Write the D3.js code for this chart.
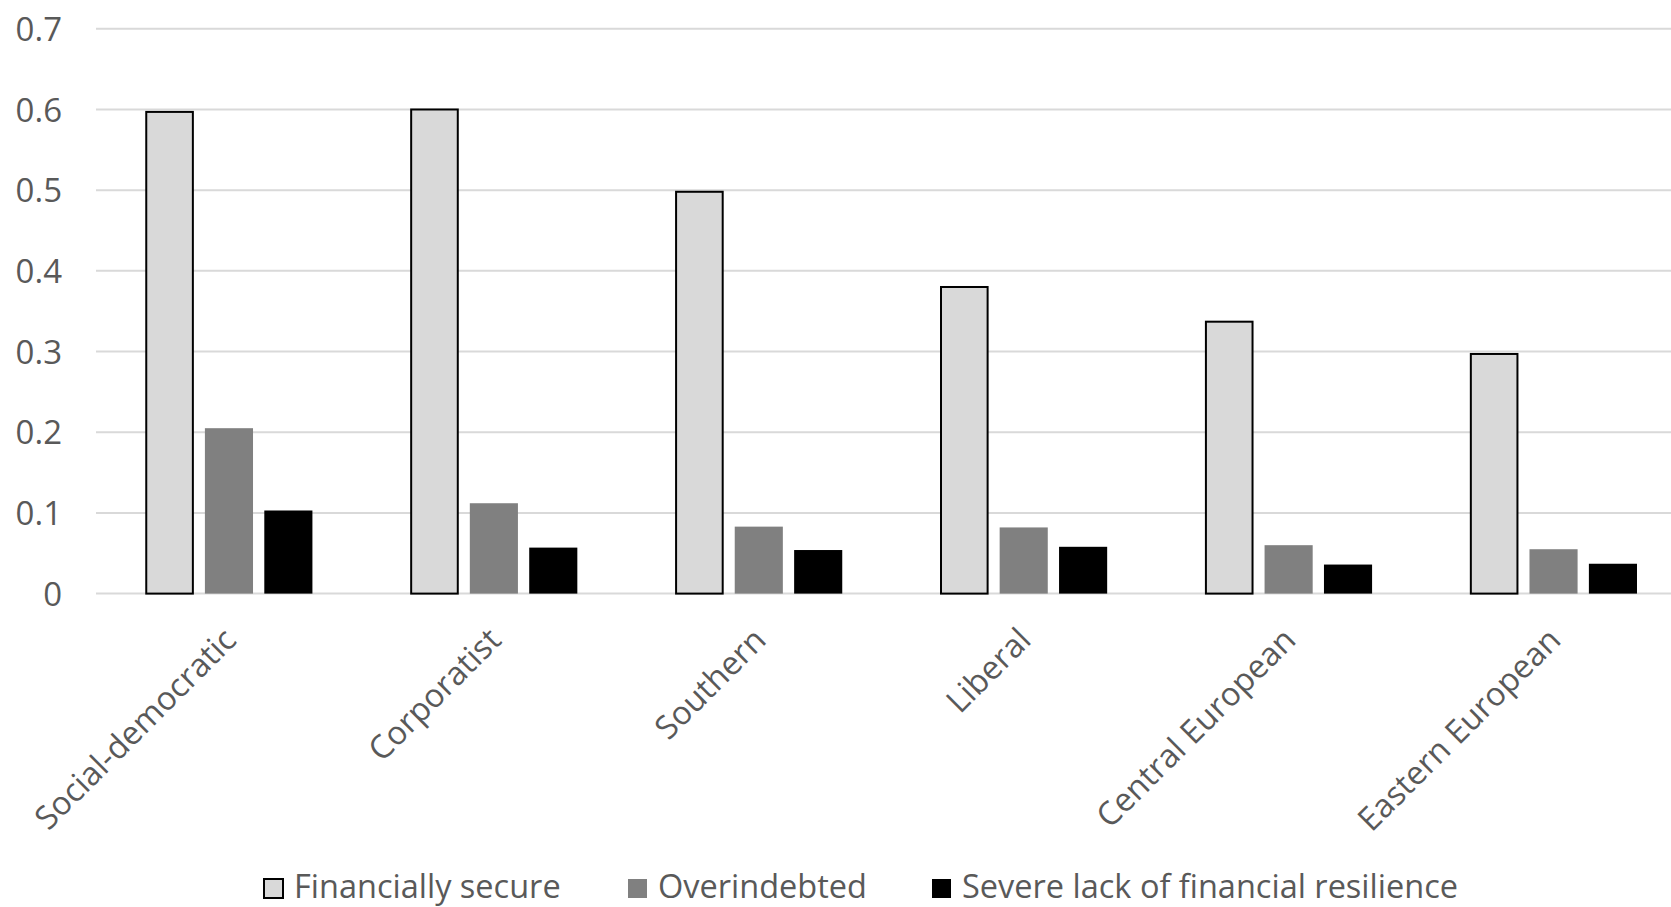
<!DOCTYPE html>
<html>
<head>
<meta charset="utf-8">
<script src="https://cdn.jsdelivr.net/npm/d3@7"></script>
<style>
html, body { margin: 0; padding: 0; background: #fff; }
svg { display: block; }
text { font-family: "Open Sans", "Noto Sans", sans-serif; fill: #595959; }
</style>
</head>
<body>
<svg id="chart" width="1671" height="907"></svg>
<script>
const categories = ["Social-democratic", "Corporatist", "Southern", "Liberal", "Central European", "Eastern European"];
const seriesNames = ["Financially secure", "Overindebted", "Severe lack of financial resilience"];
const financiallySecure = [0.597, 0.600, 0.498, 0.380, 0.337, 0.297];
const overindebted = [0.205, 0.112, 0.083, 0.082, 0.060, 0.055];
const severeLack = [0.103, 0.057, 0.054, 0.058, 0.036, 0.037];
const yTicks = [0, 0.1, 0.2, 0.3, 0.4, 0.5, 0.6, 0.7];

(function () {
const seriesValues = [financiallySecure, overindebted, severeLack];
const fills = ["#d9d9d9", "#808080", "#000000"];
const strokes = ["#000000", "none", "none"];

const svg = d3.select("#chart");
const pLeft = 96, pRight = 1671, pTop = 28.8, pBottom = 593.6;

// category bands run slightly past the right edge of the picture (cropped chart)
const x0 = d3.scaleBand().domain(categories).range([96.5, 1686]).padding(0);
const bw = x0.bandwidth();
const x1 = d3.scaleBand().domain(seriesNames).range([49, bw - 49]).paddingInner(0.19).paddingOuter(0);
const y = d3.scaleLinear().domain([0, 0.7]).range([pBottom, pTop]);

// gridlines
svg.append("g").selectAll("line").data(yTicks).join("line")
  .attr("x1", pLeft).attr("x2", pRight)
  .attr("y1", d => y(d)).attr("y2", d => y(d))
  .attr("stroke", "#d9d9d9").attr("stroke-width", 2);

// y tick labels
const yAxis = d3.axisLeft(y).tickValues(yTicks).tickSize(0).tickPadding(0)
  .tickFormat(d => d === 0 ? "0" : d3.format(".1f")(d));
const ya = svg.append("g").attr("transform", `translate(62,0)`).call(yAxis);
ya.select(".domain").remove();
ya.selectAll("text").attr("font-size", 33).attr("fill", "#595959")
  .style("font-family", '"Open Sans", sans-serif').attr("dy", "0.35em");

// bars
const rows = categories.map((c, i) => ({ cat: c, vals: seriesNames.map((s, j) => ({ s, j, v: seriesValues[j][i] })) }));
const groups = svg.append("g").selectAll("g").data(rows).join("g")
  .attr("transform", d => `translate(${x0(d.cat)},0)`);
groups.selectAll("rect").data(d => d.vals).join("rect")
  .attr("x", d => x1(d.s) + (d.j === 0 ? 0.75 : 0))
  .attr("width", d => x1.bandwidth() - (d.j === 0 ? 1.5 : 0))
  .attr("y", d => y(d.v))
  .attr("height", d => y(0) - y(d.v))
  .attr("fill", d => fills[d.j])
  .attr("stroke", d => strokes[d.j])
  .attr("stroke-width", 2);

// x labels
const xAxis = d3.axisBottom(x0).tickSize(0).tickPadding(0);
const xa = svg.append("g").call(xAxis);
xa.select(".domain").remove();
xa.selectAll(".tick").attr("transform", d => `translate(${x0(d) + bw / 2 + 9},642)`);
xa.selectAll("text")
  .attr("y", 0).attr("dy", 0)
  .attr("text-anchor", "end")
  .attr("transform", "rotate(-45)")
  .attr("font-size", 32.5).attr("fill", "#595959")
  .style("font-family", '"Open Sans", sans-serif');

// legend
const legendX = [263, 627, 931];
const lg = svg.append("g").selectAll("g").data(seriesNames).join("g")
  .attr("transform", (d, i) => `translate(${legendX[i]},0)`);
lg.append("rect").attr("x", 1).attr("y", 879).attr("width", 19).attr("height", 19)
  .attr("fill", (d, i) => fills[i]).attr("stroke", (d, i) => strokes[i]).attr("stroke-width", 2);
lg.append("text").attr("x", 31).attr("y", 898).text(d => d)
  .attr("font-size", 32.5);
})();
</script>
</body>
</html>
